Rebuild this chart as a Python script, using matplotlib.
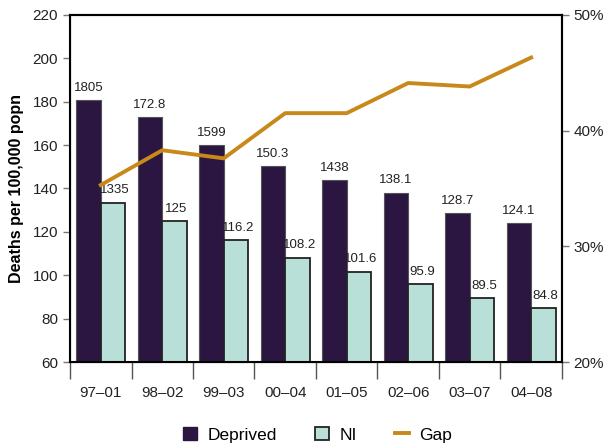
import matplotlib.pyplot as plt
import numpy as np
from matplotlib.lines import Line2D
from matplotlib.patches import Patch

plt.rcParams['font.family'] = ['Liberation Sans', 'DejaVu Sans']

periods = ['97\u201301', '98\u201302', '99\u201303', '00\u201304',
           '01\u201305', '02\u201306', '03\u201307', '04\u201308']
deprived = [180.5, 172.8, 159.9, 150.3, 143.8, 138.1, 128.7, 124.1]
ni = [133.5, 125.0, 116.2, 108.2, 101.6, 95.9, 89.5, 84.8]
deprived_labels = ['1805', '172.8', '1599', '150.3', '1438', '138.1', '128.7', '124.1']
ni_labels = ['1335', '125', '116.2', '108.2', '101.6', '95.9', '89.5', '84.8']
gap = [35.3, 38.3, 37.6, 41.5, 41.5, 44.1, 43.8, 46.3]

c_dep = '#2a1640'
c_ni = '#b8e0d8'
c_gap = '#c8891a'

fig = plt.figure(figsize=(6.11, 4.47), dpi=100)
ax = fig.add_axes([0.1146, 0.1895, 0.805, 0.7777])

x = np.arange(len(periods))
w = 0.4
ax.bar(x - w / 2, deprived, w, color=c_dep, edgecolor='#555555', linewidth=0.8, zorder=2)
ax.bar(x + w / 2, ni, w, color=c_ni, edgecolor='#222222', linewidth=1.3, zorder=2)

for i in range(len(x)):
    ax.text(x[i] - w / 2, deprived[i] + 3, deprived_labels[i], ha='center', va='bottom',
            fontsize=9.5, color='#222222')
    ax.text(x[i] + w / 2 + 0.03, ni[i] + 3, ni_labels[i], ha='center', va='bottom',
            fontsize=9.5, color='#222222')

ax.set_ylim(60, 220)
ax.set_xlim(-0.5, 7.5)
ax.set_yticks(range(60, 221, 20))
ax.tick_params(axis='y', labelsize=11, length=5, width=1, direction='out',
               color='#777777', labelcolor='#222222')
ax.set_ylabel('Deaths per 100,000 popn', fontsize=11.5, fontweight='bold', labelpad=6)

ax.set_xticks(x)
ax.set_xticklabels(periods, fontsize=11, color='#222222')
ax.tick_params(axis='x', length=0, pad=17)
ax.set_xticks(np.arange(-0.5, 8, 1), minor=True)
ax.tick_params(axis='x', which='minor', length=12, width=1, color='#555555')

for s in ['left', 'bottom', 'right', 'top']:
    ax.spines[s].set_linewidth(1.5)

ax2 = ax.twinx()
ax2.plot(x, gap, color=c_gap, linewidth=2.8, zorder=3)
ax2.set_ylim(20, 50)
ax2.set_yticks([20, 30, 40, 50])
ax2.set_yticklabels(['20%', '30%', '40%', '50%'])
ax2.tick_params(axis='y', labelsize=11, length=5, width=1, direction='out',
                color='#777777', labelcolor='#222222')
for s in ['right', 'top']:
    ax2.spines[s].set_linewidth(1.5)

handles = [Patch(facecolor=c_dep, edgecolor=c_dep),
           Patch(facecolor=c_ni, edgecolor='#222222', linewidth=1.3),
           Line2D([0], [0], color=c_gap, linewidth=2.8)]
fig.legend(handles, ['Deprived', 'NI', 'Gap'], loc='lower center', ncol=3,
           bbox_to_anchor=(0.52, -0.025), frameon=False, fontsize=12.5,
           handlelength=0.8, handleheight=0.8, columnspacing=2.2, handletextpad=0.6)

fig.savefig('out.png', dpi=100)
